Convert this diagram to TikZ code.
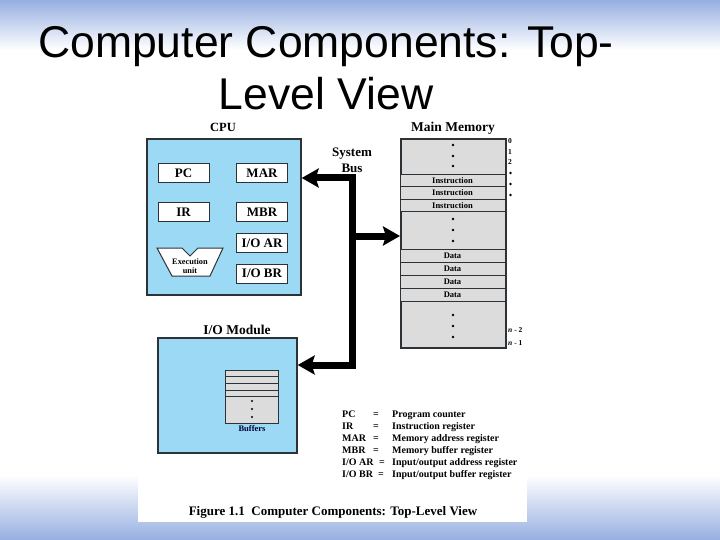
\documentclass[tikz,border=0pt]{standalone}
\usepackage{fontspec}
\setmainfont{Liberation Serif}
\newfontfamily\titlefont{Liberation Sans}
\usetikzlibrary{arrows.meta}
\definecolor{slideblue}{RGB}{150,175,225}
\definecolor{cpublue}{RGB}{155,217,245}
\definecolor{memgray}{RGB}{220,220,220}
\definecolor{edgec}{RGB}{45,50,55}
\begin{document}
\begin{tikzpicture}[x=1pt,y=-1pt,
  lbl/.style={inner sep=0pt, font=\fontsize{12.5}{14}\selectfont\bfseries},
  reg/.style={draw=edgec, line width=1pt, fill=white, minimum width=51pt, minimum height=19pt, inner sep=0pt, font=\fontsize{13}{14}\selectfont\bfseries},
  unitbox/.style={draw=edgec, line width=1.7pt, fill=cpublue, inner sep=0pt, anchor=north west},
  memrow/.style={draw=edgec, line width=0.9pt, fill=memgray, minimum width=105pt, inner sep=0pt, font=\fontsize{8.5}{9}\selectfont\bfseries},
  small/.style={inner sep=0pt, font=\fontsize{7.5}{9}\selectfont\bfseries},
  legend/.style={inner sep=0pt, anchor=base west, font=\fontsize{10}{12}\selectfont\bfseries},
  bus/.style={line width=7pt, black},
  bigtip/.style={-{Stealth[length=17pt,width=19pt,inset=3pt]}},
]
\useasboundingbox (0,0) rectangle (720,540);
% slide background
\fill[white] (0,0) rectangle (720,540);
\shade[top color=slideblue, bottom color=white] (0,0) rectangle (720,50);
\shade[top color=white, bottom color=slideblue] (0,475) rectangle (720,540);
% figure background
\fill[white] (138,118) rectangle (527,522);

% title
\node[anchor=base, inner sep=0pt, font=\titlefont\fontsize{44.5}{52}\selectfont] (title1) at (326,58) {Computer Components: Top-};
\node[anchor=base, inner sep=0pt, font=\titlefont\fontsize{44.5}{52}\selectfont] (title2) at (326,110) {Level View};

% CPU
\node[lbl] (cpulbl) at (223,127) {CPU};
\node[unitbox, minimum width=154pt, minimum height=156pt] (cpu) at (146,138) {};
\node[reg] (pc) at (183.5,173.5) {PC};
\node[reg] (mar) at (262,173.5) {MAR};
\node[reg] (ir) at (183.5,212.5) {IR};
\node[reg] (mbr) at (262,212.5) {MBR};
\node[reg] (ioar) at (262,243) {I/O AR};
\node[reg] (iobr) at (262,273.5) {I/O BR};
\draw[draw=edgec, line width=1pt, fill=white] (157,248) -- (182,248) -- (190,256) -- (198,248) -- (223,248) -- (210,276) -- (172,276) -- cycle;
\node[small, font=\fontsize{8.3}{9}\selectfont\bfseries] (exec1) at (190,261.5) {Execution};
\node[small, font=\fontsize{8.3}{9}\selectfont\bfseries] (exec2) at (190,270.5) {unit};

% Main memory
\node[lbl, font=\fontsize{13.5}{15}\selectfont\bfseries] (memlbl) at (453,128) {Main Memory};
\node[unitbox, fill=memgray, minimum width=105pt, minimum height=209pt] (mem) at (400,138) {};
\node[memrow, minimum height=12.6pt] (ins1) at (452.5,180.3) {Instruction};
\node[memrow, minimum height=12.6pt] (ins2) at (452.5,192.9) {Instruction};
\node[memrow, minimum height=12.6pt] (ins3) at (452.5,205.5) {Instruction};
\node[memrow, minimum height=13pt] (dat1) at (452.5,255.5) {Data};
\node[memrow, minimum height=13pt] (dat2) at (452.5,268.5) {Data};
\node[memrow, minimum height=13pt] (dat3) at (452.5,281.5) {Data};
\node[memrow, minimum height=13pt] (dat4) at (452.5,294.5) {Data};
\foreach \y in {145,156,166,219,230,241,315,326,337} \fill (453,\y) circle (1.4pt);
\node[small, anchor=west] (a0) at (508,141) {0};
\node[small, anchor=west] (a1) at (508,152) {1};
\node[small, anchor=west] (a2) at (508,162) {2};
\foreach \y in {173,184,195} \fill (510.5,\y) circle (1.3pt);
\node[small, anchor=west] (an2) at (508,330) {\textit{n} - 2};
\node[small, anchor=west] (an1) at (508,343) {\textit{n} - 1};

% I/O module
\node[lbl, font=\fontsize{13.5}{15}\selectfont\bfseries] (iolbl) at (237,330) {I/O Module};
\node[unitbox, minimum width=139pt, minimum height=115pt] (io) at (157,337) {};
\draw[draw=edgec, line width=0.9pt, fill=memgray] (225,370) rectangle (278,423);
\foreach \y in {376.7,383.3,390,396.5} \draw[edgec, line width=0.9pt] (225,\y) -- (278,\y);
\foreach \y in {401,409,417} \fill (252,\y) circle (1.2pt);
\node[small, font=\fontsize{8.5}{9}\selectfont\bfseries, text=black!80!blue] (buf) at (252,429) {Buffers};

% System bus
\node[lbl, align=center, font=\fontsize{13}{16}\selectfont\bfseries] (buslbl) at (352,160) {System\\Bus};
\coordinate (busTop) at (352,178);
\coordinate (busMid) at (352,236);
\coordinate (busBot) at (352,365);
\draw[bus, {Stealth[length=17pt,width=19pt,inset=3pt]}-{Stealth[length=17pt,width=19pt,inset=3pt]}] (cpu.east |- busTop) -- (busTop) -- (busBot) -- (io.east |- busBot);
\draw[bus, bigtip] (busMid) -- (mem.west |- busMid);

% legend
\foreach \n/\y/\a/\ex/\d in {1/417.5/PC/376/Program counter, 2/429.5/IR/376/Instruction register, 3/441.5/MAR/376/Memory address register, 4/453.5/MBR/376/Memory buffer register, 5/465.5/I\slash O AR/382/Input\slash output address register, 6/477.5/I\slash O BR/381/Input\slash output buffer register} {
  \node[legend] (ab\n) at (342,\y) {\a};
  \node[legend, anchor=base] (eq\n) at (\ex,\y) {=};
  \node[legend] (df\n) at (392,\y) {\d};
}

% caption
\node[lbl, font=\fontsize{13}{14}\selectfont\bfseries] (caption) at (333,512) {Figure 1.1\ \ Computer Components: Top-Level View};
\end{tikzpicture}
\end{document}
